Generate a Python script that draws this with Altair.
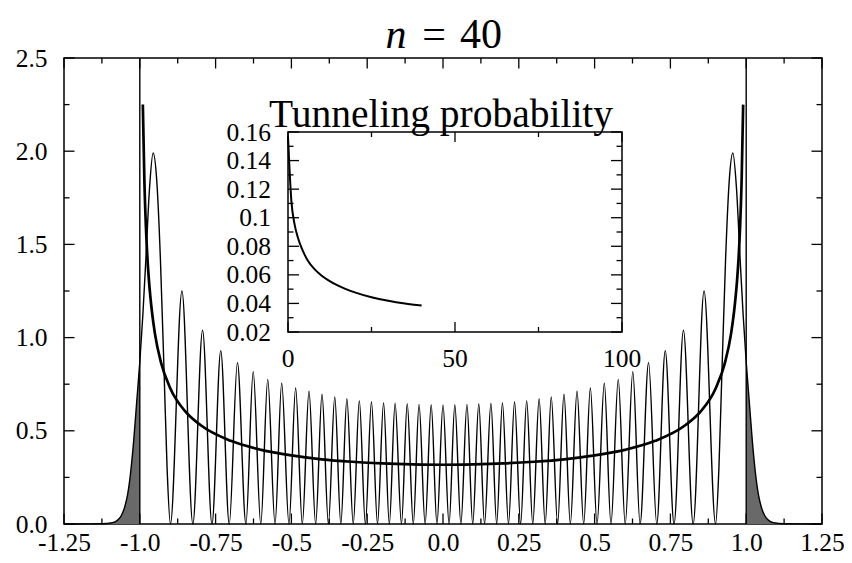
import altair as alt
import pandas as pd

# ---------------- main panel (n = 40) ----------------
tail_x = [-1.25, -1.18, -1.14, -1.11, -1.09, -1.08, -1.07, -1.06, -1.05, -1.04, -1.03, -1.02, -1.01, -1.00]
tail_y = [0.000, 0.0005, 0.001, 0.003, 0.007, 0.013, 0.025, 0.048, 0.090, 0.160, 0.280, 0.450, 0.660, 0.870]
lobe_x = [-0.99, -0.98, -0.968, -0.956, -0.944, -0.932, -0.92, -0.91]
lobe_y = [1.12, 1.42, 1.80, 1.99, 1.84, 1.42, 0.82, 0.30]
zero_x = [-0.899, -0.825, -0.762, -0.705, -0.650, -0.601, -0.554, -0.508, -0.464, -0.420,
          -0.378, -0.337, -0.296, -0.256, -0.216, -0.177, -0.137, -0.098, -0.059, -0.020]
peak_x = [-0.861, -0.793, -0.733, -0.678, -0.626, -0.578, -0.532, -0.486, -0.442, -0.399,
          -0.357, -0.317, -0.276, -0.236, -0.196, -0.158, -0.118, -0.079, -0.039]
peak_y = [1.25, 1.04, 0.93, 0.866, 0.817, 0.776, 0.755, 0.730, 0.712, 0.696,
          0.682, 0.672, 0.662, 0.656, 0.651, 0.648, 0.645, 0.642, 0.640]
centre_y = 0.639

cl_x = [0.0, 0.1, 0.2, 0.3, 0.4, 0.5, 0.6, 0.7, 0.8, 0.85, 0.9, 0.93, 0.95, 0.96, 0.97, 0.975, 0.98, 0.985, 0.99]
cl_y = [0.318, 0.320, 0.325, 0.334, 0.347, 0.368, 0.398, 0.446, 0.531, 0.604, 0.730, 0.866, 1.02, 1.14, 1.31, 1.43, 1.60, 1.85, 2.25]

turning_x = [-1.0, 1.0]

x_major = [-1.25, -1.0, -0.75, -0.5, -0.25, 0.0, 0.25, 0.5, 0.75, 1.0, 1.25]
x_labels = ['-1.25', '-1.0', '-0.75', '-0.5', '-0.25', '0.0', '0.25', '0.5', '0.75', '1.0', '1.25']
x_minor = [-1.125, -0.875, -0.625, -0.375, -0.125, 0.125, 0.375, 0.625, 0.875, 1.125]
y_major = [0.0, 0.5, 1.0, 1.5, 2.0, 2.5]
y_minor = [0.25, 0.75, 1.25, 1.75, 2.25]

# ---------------- inset: tunneling probability ----------------
tp_n = [0, 1, 2, 3, 4, 5, 6, 8, 10, 12, 15, 20, 25, 30, 35, 40]
tp_p = [0.157, 0.112, 0.095, 0.0858, 0.0792, 0.0740, 0.0697, 0.0638, 0.0596, 0.0563, 0.0524, 0.0477, 0.0443, 0.0418, 0.0399, 0.0385]
in_x_major = [0, 50, 100]
in_x_labels = ['0', '50', '100']
in_x_minor = [25, 75]
in_y_major = [0.02, 0.04, 0.06, 0.08, 0.10, 0.12, 0.14, 0.16]
in_y_labels = ['0.02', '0.04', '0.06', '0.08', '0.1', '0.12', '0.14', '0.16']
in_y_minor = [0.03, 0.05, 0.07, 0.09, 0.11, 0.13, 0.15]

title_parts = ['n', '=', '40']
inset_title = 'Tunneling probability'

# ---------------- build tables ----------------
left = list(zip(tail_x, tail_y)) + list(zip(lobe_x, lobe_y))
for i in range(len(zero_x)):
    left.append((zero_x[i], 0.0))
    if i < len(peak_x):
        left.append((peak_x[i], peak_y[i]))
right = [(-x, y) for (x, y) in reversed(left)]
quant = pd.DataFrame(left + [(0.0, centre_y)] + right, columns=['x', 'y'])

shade_l = pd.DataFrame({'x': tail_x, 'y': tail_y})
shade_r = pd.DataFrame({'x': [-v for v in reversed(tail_x)], 'y': list(reversed(tail_y))})

cl_pts = [(-x, y) for x, y in reversed(list(zip(cl_x, cl_y)))][:-1] + list(zip(cl_x, cl_y))
classical = pd.DataFrame(cl_pts, columns=['x', 'y'])

W, H = 758, 466
FONT = 'Liberation Serif'
LBL = 25.5

xs = alt.Scale(domain=[-1.25, 1.25], nice=False, zero=False)
ys = alt.Scale(domain=[0, 2.5], nice=False, zero=False)

label_expr = '[' + ','.join("'%s'" % s for s in x_labels) + '][round((datum.value + 1.25) * 4)]'

x_axis = alt.Axis(values=x_major, labelExpr=label_expr, ticks=False, tickSize=0, domain=False,
                  grid=False, labelFont=FONT, labelFontSize=LBL, labelColor='black',
                  labelPadding=6, labelFlush=False, labelOverlap=False, title=None)
y_axis = alt.Axis(values=y_major, format='.1f', ticks=False, tickSize=0, domain=False,
                  grid=False, labelFont=FONT, labelFontSize=LBL, labelColor='black',
                  labelPadding=17, labelFlush=False, labelOverlap=False, title=None)


def shade_chart(df):
    return alt.Chart(df).mark_area(interpolate='monotone', color='#696969', opacity=1).encode(
        x=alt.X('x:Q', scale=xs, axis=None),
        y=alt.Y('y:Q', scale=ys, axis=None))


quant_layer = alt.Chart(quant).mark_line(interpolate='monotone', color='black', strokeWidth=1.4).encode(
    x=alt.X('x:Q', scale=xs, axis=x_axis),
    y=alt.Y('y:Q', scale=ys, axis=y_axis))

classical_layer = alt.Chart(classical).mark_line(interpolate='monotone', color='black', strokeWidth=2.7).encode(
    x=alt.X('x:Q', scale=xs, axis=None),
    y=alt.Y('y:Q', scale=ys, axis=None))

turn_layer = alt.Chart(pd.DataFrame({'x': turning_x, 'y0': [0.0, 0.0], 'y1': [2.5, 2.5]})).mark_rule(
    color='black', strokeWidth=1.4).encode(
    x=alt.X('x:Q', scale=xs, axis=None),
    y=alt.Y('y0:Q', scale=ys, axis=None), y2='y1:Q')


def xticks(vals, size, sx, sy, yb, yt):
    df = pd.DataFrame({'v': vals, 'yb': [yb] * len(vals), 'yt': [yt] * len(vals)})
    b = alt.Chart(df).mark_tick(orient='vertical', size=size, thickness=1.3, yOffset=-size / 2,
                                color='black', opacity=1).encode(
        x=alt.X('v:Q', scale=sx, axis=None), y=alt.Y('yb:Q', scale=sy, axis=None))
    t = alt.Chart(df).mark_tick(orient='vertical', size=size, thickness=1.3, yOffset=size / 2,
                                color='black', opacity=1).encode(
        x=alt.X('v:Q', scale=sx, axis=None), y=alt.Y('yt:Q', scale=sy, axis=None))
    return [b, t]


def yticks(vals, size, sx, sy, xl, xr):
    df = pd.DataFrame({'v': vals, 'xl': [xl] * len(vals), 'xr': [xr] * len(vals)})
    l = alt.Chart(df).mark_tick(orient='horizontal', size=size, thickness=1.3, xOffset=size / 2,
                                color='black', opacity=1).encode(
        y=alt.Y('v:Q', scale=sy, axis=None), x=alt.X('xl:Q', scale=sx, axis=None))
    r = alt.Chart(df).mark_tick(orient='horizontal', size=size, thickness=1.3, xOffset=-size / 2,
                                color='black', opacity=1).encode(
        y=alt.Y('v:Q', scale=sy, axis=None), x=alt.X('xr:Q', scale=sx, axis=None))
    return [l, r]


main_ticks = (xticks(x_major, 10.5, xs, ys, 0.0, 2.5) +
              xticks(x_minor, 5.5, xs, ys, 0.0, 2.5) +
              yticks(y_major, 10.5, xs, ys, -1.25, 1.25) +
              yticks(y_minor, 5.5, xs, ys, -1.25, 1.25))

# inset scales
ixs = alt.Scale(domain=[0, 100], range=[224, 558], nice=False, zero=False)
iys = alt.Scale(domain=[0.02, 0.16], range=[274, 74], nice=False, zero=False)

frame = alt.Chart(pd.DataFrame({'x0': [0], 'x1': [100], 'y0': [0.02], 'y1': [0.16]})).mark_rect(
    fill='white', stroke='black', strokeWidth=1.5).encode(
    x=alt.X('x0:Q', scale=ixs, axis=None), x2='x1:Q',
    y=alt.Y('y0:Q', scale=iys, axis=None), y2='y1:Q')

tp_line = alt.Chart(pd.DataFrame({'n': tp_n, 'p': tp_p})).mark_line(
    interpolate='monotone', color='black', strokeWidth=2).encode(
    x=alt.X('n:Q', scale=ixs, axis=None), y=alt.Y('p:Q', scale=iys, axis=None))

inset_ticks = (xticks(in_x_major, 10, ixs, iys, 0.02, 0.16) +
               xticks(in_x_minor, 5, ixs, iys, 0.02, 0.16) +
               yticks(in_y_major, 11, ixs, iys, 0, 100) +
               yticks(in_y_minor, 5.5, ixs, iys, 0, 100))

ixl = alt.Chart(pd.DataFrame({'v': in_x_major, 't': in_x_labels, 'b': [0.02] * 3})).mark_text(
    font=FONT, fontSize=LBL, align='center', baseline='alphabetic', dy=35, color='black').encode(
    x=alt.X('v:Q', scale=ixs, axis=None), y=alt.Y('b:Q', scale=iys, axis=None), text='t:N')
iyl = alt.Chart(pd.DataFrame({'v': in_y_major, 't': in_y_labels, 'b': [0] * 8})).mark_text(
    font=FONT, fontSize=LBL, align='right', baseline='alphabetic', dx=-17, dy=8.5, color='black').encode(
    y=alt.Y('v:Q', scale=iys, axis=None), x=alt.X('b:Q', scale=ixs, axis=None), text='t:N')

# titles, placed through the main / inset scales
titles = pd.DataFrame({'n': [title_parts[0]], 'eq': [title_parts[1]], 'num': [title_parts[2]],
                       'c': [inset_title], 'xc': [0.0], 'yt': [2.5], 'ix': [50.0], 'iy': [0.16]})


def title_piece(field, dx, italic=False):
    kw = dict(font=FONT, fontSize=42, align='center', baseline='alphabetic', dx=dx, dy=-10, color='black')
    if italic:
        kw['fontStyle'] = 'italic'
    return alt.Chart(titles).mark_text(**kw).encode(
        text=field + ':N', x=alt.X('xc:Q', scale=xs, axis=None), y=alt.Y('yt:Q', scale=ys, axis=None))


t_n = title_piece('n', -47, italic=True)
t_eq = title_piece('eq', -9)
t_num = title_piece('num', 38)
t_inset = alt.Chart(titles).mark_text(font=FONT, fontSize=39.5, align='center',
                                      baseline='alphabetic', dx=-14, dy=-5, color='black').encode(
    text='c:N', x=alt.X('ix:Q', scale=ixs, axis=None), y=alt.Y('iy:Q', scale=iys, axis=None))

chart = alt.layer(
    shade_chart(shade_l), shade_chart(shade_r), quant_layer, classical_layer, turn_layer, *main_ticks,
    frame, tp_line, *inset_ticks, ixl, iyl, t_n, t_eq, t_num, t_inset
).resolve_scale(x='independent', y='independent').properties(
    width=W, height=H,
    padding={'left': 56, 'top': 50, 'right': 22, 'bottom': 31},
    autosize=alt.AutoSizeParams(type='none'),
).configure_view(stroke='black', strokeWidth=1.5)

chart.save('out.html', embed_options={'renderer': 'svg', 'actions': False})
